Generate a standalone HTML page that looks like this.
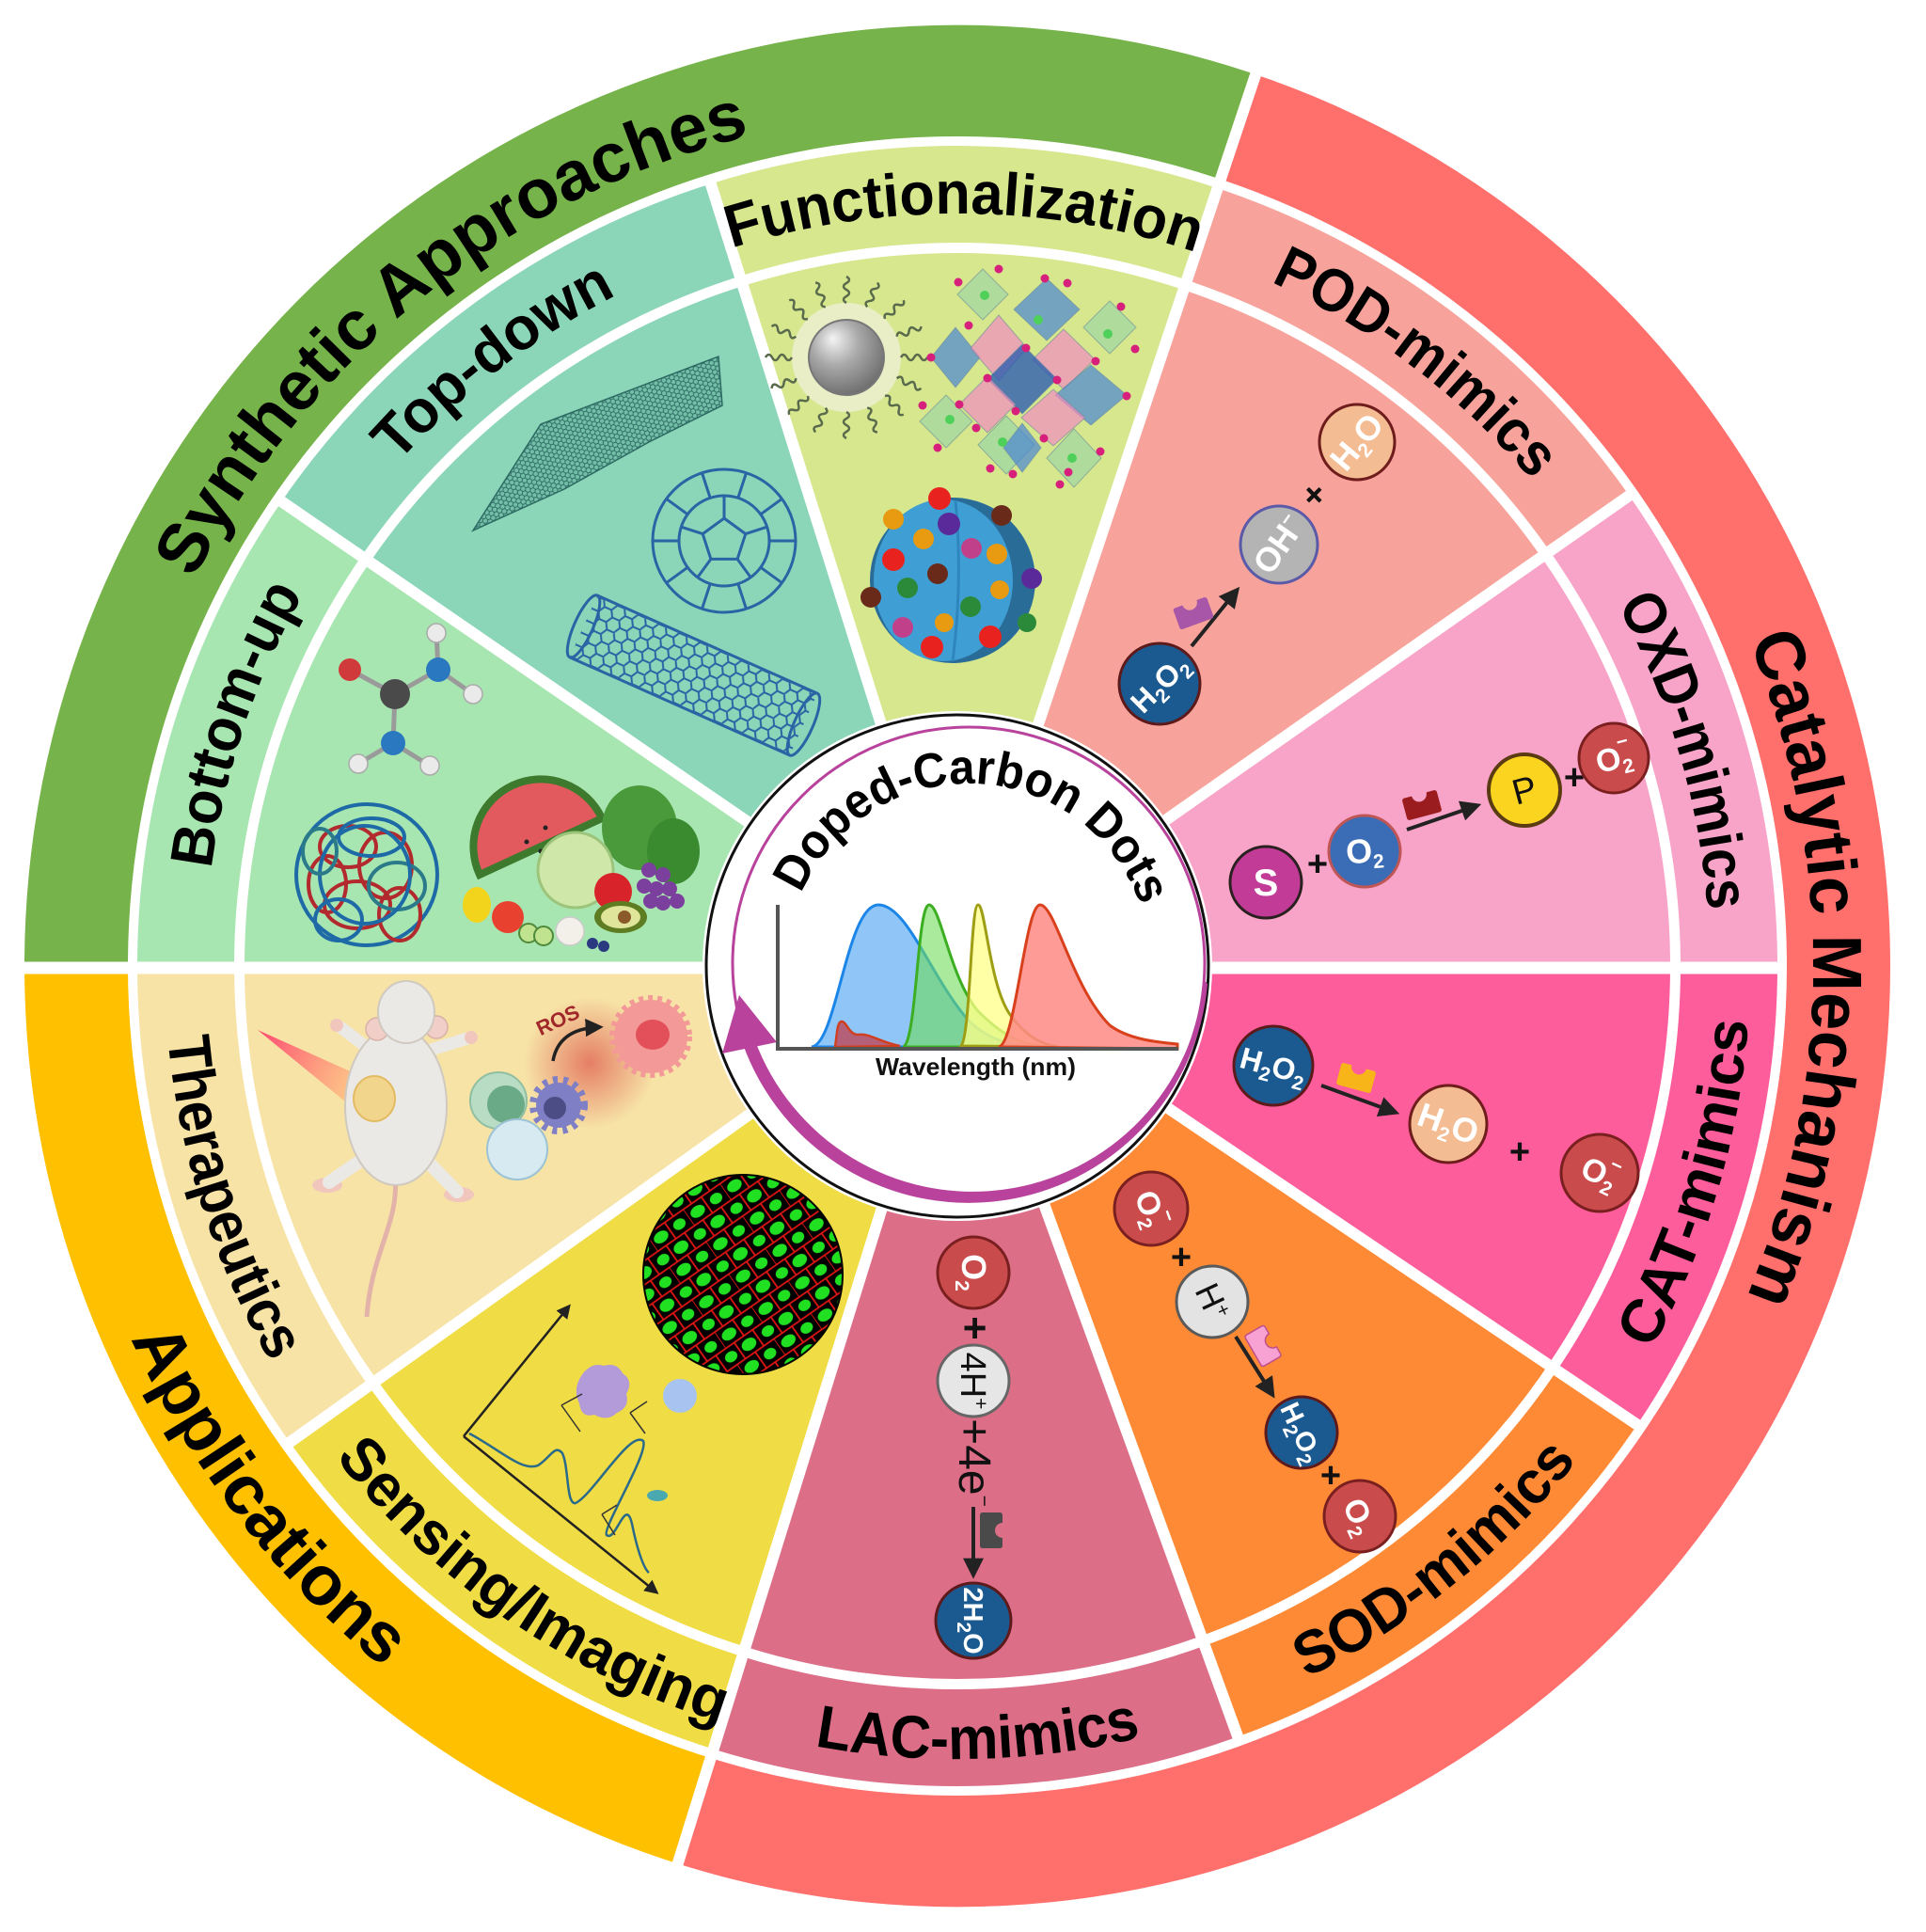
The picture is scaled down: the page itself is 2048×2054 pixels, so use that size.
<!DOCTYPE html>
<html><head><meta charset="utf-8">
<style>
html,body{margin:0;padding:0;background:#fff}
svg{display:block}
.lbl{font-family:"Liberation Sans",sans-serif;font-weight:700;fill:#000}
.mw{font-family:"Liberation Sans",sans-serif;font-weight:700;font-size:32px;fill:#fff;text-anchor:middle}
.mk{font-family:"Liberation Sans",sans-serif;font-weight:400;font-size:34px;fill:#111;text-anchor:middle}
.sb{font-size:21px}
.pl{font-family:"Liberation Sans",sans-serif;font-weight:700;font-size:38px;fill:#111;text-anchor:middle}
</style></head>
<body>
<svg xmlns="http://www.w3.org/2000/svg" width="2048" height="2054" viewBox="0 0 2048 2054">
<defs>
  <path id="mcw" d="M1018,1827 A800,800 0 1 1 1018,227 A800,800 0 1 1 1018,1827"/>
  <path id="mccw" d="M1018,184 A843,843 0 1 0 1018,1870 A843,843 0 1 0 1018,184"/>
  <path id="ocw" d="M1018,1937 A910,910 0 1 1 1018,117 A910,910 0 1 1 1018,1937"/>
  <path id="occw" d="M1018,63 A964,964 0 1 0 1018,1991 A964,964 0 1 0 1018,63"/>
  <path id="dcw" d="M1030,1221 A194,194 0 1 1 1030,833 A194,194 0 1 1 1030,1221"/>
  <radialGradient id="gball" cx="0.4" cy="0.35" r="0.7" fx="0.32" fy="0.25">
    <stop offset="0" stop-color="#f4f4f4"/><stop offset="0.45" stop-color="#a9a9a9"/><stop offset="1" stop-color="#6a6a6a"/>
  </radialGradient>
  <linearGradient id="laser" x1="0" y1="0" x2="1" y2="0.4">
    <stop offset="0" stop-color="#ff3f6e" stop-opacity="0.95"/><stop offset="1" stop-color="#ffb47a" stop-opacity="0.7"/>
  </linearGradient>
  <radialGradient id="glow"><stop offset="0" stop-color="#d93a3a" stop-opacity="0.6"/><stop offset="1" stop-color="#d93a3a" stop-opacity="0"/></radialGradient>
  <pattern id="hexg" width="9" height="5.2" patternUnits="userSpaceOnUse" patternTransform="rotate(-20)">
    <path d="M0,2.6 L1.5,0 L4.5,0 L6,2.6 L4.5,5.2 L1.5,5.2 Z M6,2.6 L9,2.6" fill="none" stroke="#2c6a62" stroke-width="0.9"/>
  </pattern>
  <pattern id="hexb" width="24" height="14" patternUnits="userSpaceOnUse">
    <path d="M0,7 L4,0 L12,0 L16,7 L12,14 L4,14 Z M16,7 L24,7" fill="none" stroke="#2a64a5" stroke-width="2"/>
  </pattern>
  <pattern id="cellp" width="34" height="30" patternUnits="userSpaceOnUse" patternTransform="rotate(-35) scale(1.4)">
    <rect width="34" height="30" fill="#000"/>
    <path d="M0,0 L34,0 M0,15 L34,15 M0,30 L34,30 M0,0 L0,15 M17,0 L17,15 M8,15 L8,30 M25,15 L25,30" stroke="#e01515" stroke-width="1.3"/>
    <ellipse cx="8.5" cy="7.5" rx="6" ry="4.3" fill="#21e021"/>
    <ellipse cx="25.5" cy="7.5" rx="5" ry="4" fill="#21e021"/>
    <ellipse cx="16.5" cy="22.5" rx="6" ry="4.5" fill="#21e021"/>
    <ellipse cx="0" cy="22.5" rx="5" ry="4" fill="#21e021"/>
    <ellipse cx="34" cy="22.5" rx="5" ry="4" fill="#21e021"/>
  </pattern>
  <marker id="ah" viewBox="0 0 10 10" refX="7" refY="5" markerWidth="5.5" markerHeight="5.5" orient="auto">
    <path d="M0,0 L10,5 L0,10 Z" fill="#222"/>
  </marker>
  <marker id="ah2" viewBox="0 0 10 10" refX="7" refY="5" markerWidth="6" markerHeight="6" orient="auto">
    <path d="M0,0 L10,5 L0,10 Z" fill="#222"/>
  </marker>
  <path id="wv" d="M958,380 q3.5,-6 7,0 t7,0 t7,0 t7,0" fill="none" stroke="#5a6a4c" stroke-width="2.5"/>
  <path id="enz" d="M-16,-12 L-8,-12 A8,8 0 0 0 8,-12 L16,-12 Q19,-12 19,-9 L19,9 Q19,12 16,12 L-16,12 Q-19,12 -19,9 L-19,-9 Q-19,-12 -16,-12 Z"/>
</defs>

<rect width="2048" height="2054" fill="#fff"/>

<!-- outer ring -->
<path d="M1018,1027 L1338.5,69.2 A1010,1010 0 0 0 8,1027 Z" fill="#76b34a"/>
<path d="M1018,1027 L8,1027 A1010,1010 0 0 0 717.6,1991.3 Z" fill="#ffc000"/>
<path d="M1018,1027 L717.6,1991.3 A1010,1010 0 0 0 1338.5,69.2 Z" fill="#ff6f6b"/>
<path fill="#fff" fill-rule="evenodd" d="M-10,-10H2060V2064H-10Z M26,1027 A992,1000 0 1 0 2010,1027 A992,1000 0 1 0 26,1027 Z"/>
<circle cx="1018" cy="1027" r="882" fill="#fff"/>

<!-- sectors -->
<path d="M1018,1027 L1890,1027 A872,872 0 0 0 1732.3,526.8 Z" fill="#f8a4c8"/>
<path d="M1018,1027 L1732.3,526.8 A872,872 0 0 0 1294.7,200.1 Z" fill="#f7a39b"/>
<path d="M1018,1027 L1294.7,200.1 A872,872 0 0 0 755.8,195.4 Z" fill="#d6e78e"/>
<path d="M1018,1027 L755.8,195.4 A872,872 0 0 0 299.4,533.1 Z" fill="#8bd5b9"/>
<path d="M1018,1027 L299.4,533.1 A872,872 0 0 0 146,1027 Z" fill="#a8e6b1"/>
<path d="M1018,1027 L146,1027 A872,872 0 0 0 308.1,1533.4 Z" fill="#f7e3a6"/>
<path d="M1018,1027 L308.1,1533.4 A872,872 0 0 0 758.7,1859.6 Z" fill="#f0dc45"/>
<path d="M1018,1027 L758.7,1859.6 A872,872 0 0 0 1316.2,1846.4 Z" fill="#dd6e87"/>
<path d="M1018,1027 L1316.2,1846.4 A872,872 0 0 0 1740.9,1514.6 Z" fill="#fe8a35"/>
<path d="M1018,1027 L1740.9,1514.6 A872,872 0 0 0 1890,1027 Z" fill="#fe5d9b"/>

<circle cx="1018" cy="1027" r="763.5" fill="none" stroke="#fff" stroke-width="11"/>

<g stroke="#fff" stroke-width="12">
  <line x1="1018" y1="1027" x2="1737.3" y2="523.4"/>
  <line x1="1018" y1="1027" x2="1338.5" y2="69.2"/>
  <line x1="1018" y1="1027" x2="754.0" y2="189.7"/>
  <line x1="1018" y1="1027" x2="294.4" y2="529.7"/>
  <line x1="1018" y1="1027" x2="303.2" y2="1536.9"/>
  <line x1="1018" y1="1027" x2="717.6" y2="1991.3"/>
  <line x1="1018" y1="1027" x2="1318.3" y2="1852.1"/>
  <line x1="1018" y1="1027" x2="1745.9" y2="1518.0"/>
  <line x1="8" y1="1029" x2="1896" y2="1029" stroke-width="13"/>
</g>

<!-- labels -->
<text class="lbl" font-size="74"><textPath href="#ocw" startOffset="2245.8" text-anchor="middle" textLength="780" lengthAdjust="spacingAndGlyphs">Synthetic Approaches</textPath></text>
<text class="lbl" font-size="74"><textPath href="#ocw" startOffset="4290.7" text-anchor="middle" textLength="716" lengthAdjust="spacingAndGlyphs">Catalytic Mechanism</textPath></text>
<text class="lbl" font-size="74"><textPath href="#occw" startOffset="2145" text-anchor="middle" textLength="445" lengthAdjust="spacingAndGlyphs">Applications</textPath></text>

<text class="lbl" font-size="64"><textPath href="#mcw" startOffset="2520.2" text-anchor="middle" textLength="502" lengthAdjust="spacingAndGlyphs">Functionalization</textPath></text>
<text class="lbl" font-size="64"><textPath href="#mcw" startOffset="1989.7" text-anchor="middle" textLength="295" lengthAdjust="spacingAndGlyphs">Top-down</textPath></text>
<text class="lbl" font-size="64"><textPath href="#mcw" startOffset="1514.9" text-anchor="middle" textLength="310" lengthAdjust="spacingAndGlyphs">Bottom-up</textPath></text>
<text class="lbl" font-size="64"><textPath href="#mcw" startOffset="3032.6" text-anchor="middle" textLength="352" lengthAdjust="spacingAndGlyphs">POD-mimics</textPath></text>
<text class="lbl" font-size="64"><textPath href="#mcw" startOffset="3539.5" text-anchor="middle" textLength="342" lengthAdjust="spacingAndGlyphs">OXD-mimics</textPath></text>

<text class="lbl" font-size="64"><textPath href="#mccw" startOffset="1583.1" text-anchor="middle" textLength="365" lengthAdjust="spacingAndGlyphs">Therapeutics</textPath></text>
<text class="lbl" font-size="64"><textPath href="#mccw" startOffset="2140" text-anchor="middle" textLength="505" lengthAdjust="spacingAndGlyphs">Sensing/Imaging</textPath></text>
<text class="lbl" font-size="64"><textPath href="#mccw" startOffset="2670.4" text-anchor="middle" textLength="350" lengthAdjust="spacingAndGlyphs">LAC-mimics</textPath></text>
<text class="lbl" font-size="64"><textPath href="#mccw" startOffset="3218.5" text-anchor="middle" textLength="372" lengthAdjust="spacingAndGlyphs">SOD-mimics</textPath></text>
<text class="lbl" font-size="64"><textPath href="#mccw" startOffset="3729.8" text-anchor="middle" textLength="368" lengthAdjust="spacingAndGlyphs">CAT-mimics</textPath></text>

<!-- ===== Functionalization content ===== -->
<circle cx="900" cy="380" r="58" fill="#eef0d6" opacity="0.8"/>
<g>
  <use href="#wv"/>
  <use href="#wv" transform="rotate(22.5 900 380)"/>
  <use href="#wv" transform="rotate(45 900 380)"/>
  <use href="#wv" transform="rotate(67.5 900 380)"/>
  <use href="#wv" transform="rotate(90 900 380)"/>
  <use href="#wv" transform="rotate(112.5 900 380)"/>
  <use href="#wv" transform="rotate(135 900 380)"/>
  <use href="#wv" transform="rotate(157.5 900 380)"/>
  <use href="#wv" transform="rotate(180 900 380)"/>
  <use href="#wv" transform="rotate(202.5 900 380)"/>
  <use href="#wv" transform="rotate(225 900 380)"/>
  <use href="#wv" transform="rotate(247.5 900 380)"/>
  <use href="#wv" transform="rotate(270 900 380)"/>
  <use href="#wv" transform="rotate(292.5 900 380)"/>
  <use href="#wv" transform="rotate(315 900 380)"/>
  <use href="#wv" transform="rotate(337.5 900 380)"/>
</g>
<circle cx="900" cy="380" r="40" fill="url(#gball)" stroke="#777" stroke-width="2"/>

<g stroke="#6a8a9a" stroke-width="1" stroke-opacity="0.6">
  <polygon points="1045,286 1072,313 1045,340 1018,313" fill="#8fd3a8" fill-opacity="0.55"/>
  <polygon points="1113,296 1148,329 1113,362 1078,329" fill="#4a86d4" fill-opacity="0.7"/>
  <polygon points="1180,320 1208,348 1180,376 1152,348" fill="#8fd3a8" fill-opacity="0.55"/>
  <polygon points="1016,348 1042,380 1016,412 990,380" fill="#4a86d4" fill-opacity="0.7"/>
  <polygon points="1062,335 1092,370 1062,405 1032,370" fill="#ef8cc0" fill-opacity="0.7"/>
  <polygon points="1131,350 1164,382 1131,414 1098,382" fill="#ef8cc0" fill-opacity="0.7"/>
  <polygon points="1087,366 1124,403 1087,440 1050,403" fill="#2d5fb0" fill-opacity="0.8"/>
  <polygon points="1160,388 1198,420 1160,452 1122,420" fill="#4a86d4" fill-opacity="0.7"/>
  <polygon points="1050,400 1080,430 1050,460 1020,430" fill="#ef8cc0" fill-opacity="0.7"/>
  <polygon points="1120,414 1154,444 1120,474 1086,444" fill="#ef8cc0" fill-opacity="0.7"/>
  <polygon points="1006,420 1034,448 1006,476 978,448" fill="#8fd3a8" fill-opacity="0.55"/>
  <polygon points="1070,442 1100,473 1070,504 1040,473" fill="#8fd3a8" fill-opacity="0.6"/>
  <polygon points="1087,450 1107,476 1087,502 1067,476" fill="#4a86d4" fill-opacity="0.7"/>
  <polygon points="1142,456 1171,487 1142,518 1113,487" fill="#8fd3a8" fill-opacity="0.55"/>
</g>
<g fill="#d6207c">
  <circle cx="1062" cy="286" r="4.5"/><circle cx="1019" cy="300" r="4.5"/><circle cx="1111" cy="296" r="4.5"/>
  <circle cx="1135" cy="301" r="4.5"/><circle cx="1192" cy="326" r="4.5"/><circle cx="1207" cy="371" r="4.5"/>
  <circle cx="990" cy="380" r="4.5"/><circle cx="1030" cy="346" r="4.5"/><circle cx="1091" cy="370" r="4.5"/>
  <circle cx="1165" cy="384" r="4.5"/><circle cx="1050" cy="402" r="4.5"/><circle cx="1124" cy="404" r="4.5"/>
  <circle cx="1198" cy="421" r="4.5"/><circle cx="1080" cy="437" r="4.5"/><circle cx="1020" cy="430" r="4.5"/>
  <circle cx="981" cy="431" r="4.5"/><circle cx="1038" cy="455" r="4.5"/><circle cx="1110" cy="466" r="4.5"/>
  <circle cx="997" cy="476" r="4.5"/><circle cx="1053" cy="498" r="4.5"/><circle cx="1077" cy="504" r="4.5"/>
  <circle cx="1136" cy="502" r="4.5"/><circle cx="1170" cy="480" r="4.5"/><circle cx="1127" cy="515" r="4.5"/>
</g>
<g fill="#4fd05a"><circle cx="1047" cy="314" r="5"/><circle cx="1104" cy="340" r="5"/><circle cx="1178" cy="355" r="5"/><circle cx="1010" cy="446" r="5"/><circle cx="1066" cy="470" r="5"/><circle cx="1140" cy="487" r="5"/></g>

<circle cx="1013" cy="617" r="88" fill="#2a6c98"/>
<ellipse cx="1003" cy="617" rx="74" ry="86" fill="#3f9fd4"/>
<path d="M1016,532 Q1024,617 1013,703" stroke="#2f86bd" stroke-width="3" fill="none"/>
<g>
  <circle cx="999" cy="530" r="12" fill="#e8231f"/><circle cx="950" cy="552" r="11" fill="#e89a10"/>
  <circle cx="1009" cy="557" r="12" fill="#5a2a9a"/><circle cx="1065" cy="548" r="11" fill="#6a2a1a"/>
  <circle cx="982" cy="573" r="11" fill="#e89a10"/><circle cx="1033" cy="583" r="11" fill="#c0408a"/>
  <circle cx="1060" cy="589" r="11" fill="#e89a10"/><circle cx="950" cy="595" r="12" fill="#e8231f"/>
  <circle cx="997" cy="610" r="11" fill="#6a2a1a"/><circle cx="965" cy="625" r="11" fill="#2a8a3a"/>
  <circle cx="1097" cy="615" r="11" fill="#5a2a9a"/><circle cx="926" cy="635" r="11" fill="#6a2a1a"/>
  <circle cx="1063" cy="627" r="10" fill="#e89a10"/><circle cx="1032" cy="645" r="11" fill="#2a8a3a"/>
  <circle cx="1004" cy="662" r="10" fill="#e89a10"/><circle cx="960" cy="667" r="11" fill="#c0408a"/>
  <circle cx="1053" cy="677" r="12" fill="#e8231f"/><circle cx="1092" cy="662" r="10" fill="#2a8a3a"/>
  <circle cx="991" cy="688" r="12" fill="#e8231f"/>
</g>

<!-- ===== Top-down content ===== -->
<polygon points="503,564 575,451 764,379 768,431 690,470 600,520" fill="#4f9a8d" fill-opacity="0.4"/>
<polygon points="503,564 575,451 764,379 768,431 690,470 600,520" fill="url(#hexg)" stroke="#2c6a62" stroke-width="1.5"/>

<g stroke="#2a64a5" stroke-width="3" fill="none">
  <circle cx="770" cy="575" r="76"/>
  <circle cx="770" cy="575" r="48"/>
  <polygon points="770,551 792.8,567.6 784.1,594.4 755.9,594.4 747.2,567.6"/>
  <line x1="770" y1="551" x2="770" y2="527"/><line x1="792.8" y1="567.6" x2="815.7" y2="560.2"/>
  <line x1="784.1" y1="594.4" x2="798.2" y2="613.8"/><line x1="755.9" y1="594.4" x2="741.8" y2="613.8"/>
  <line x1="747.2" y1="567.6" x2="724.3" y2="560.2"/>
  <line x1="784.8" y1="529.4" x2="793.5" y2="502.7"/><line x1="808.8" y1="546.8" x2="831.5" y2="530.3"/>
  <line x1="818" y1="575" x2="846" y2="575"/><line x1="808.8" y1="603.2" x2="831.5" y2="619.7"/>
  <line x1="784.8" y1="620.6" x2="793.5" y2="647.3"/><line x1="755.2" y1="620.6" x2="746.5" y2="647.3"/>
  <line x1="731.2" y1="603.2" x2="708.5" y2="619.7"/><line x1="722" y1="575" x2="694" y2="575"/>
  <line x1="731.2" y1="546.8" x2="708.5" y2="530.3"/><line x1="755.2" y1="529.4" x2="746.5" y2="502.7"/>
</g>
<g transform="translate(737.5,718) rotate(24)">
  <rect x="-128" y="-36" width="256" height="72" fill="url(#hexb)"/>
  <line x1="-128" y1="-36" x2="128" y2="-36" stroke="#2a64a5" stroke-width="3"/>
  <line x1="-128" y1="36" x2="128" y2="36" stroke="#2a64a5" stroke-width="3"/>
  <ellipse cx="-128" cy="0" rx="10" ry="36" fill="none" stroke="#2a64a5" stroke-width="3"/>
  <ellipse cx="128" cy="0" rx="10" ry="36" fill="none" stroke="#2a64a5" stroke-width="3"/>
</g>

<!-- ===== Bottom-up content ===== -->
<g stroke="#9a9a9a" stroke-width="5">
  <line x1="420" y1="738" x2="372" y2="712"/><line x1="420" y1="738" x2="466" y2="712"/>
  <line x1="420" y1="738" x2="418" y2="790"/><line x1="466" y1="712" x2="464" y2="673"/>
  <line x1="466" y1="712" x2="503" y2="738"/><line x1="418" y1="790" x2="381" y2="812"/>
  <line x1="418" y1="790" x2="457" y2="814"/>
</g>
<circle cx="420" cy="738" r="16" fill="#4a4a4a"/>
<circle cx="372" cy="712" r="12" fill="#d03a3a"/>
<circle cx="466" cy="712" r="13" fill="#2a78c0"/>
<circle cx="418" cy="790" r="13" fill="#2a78c0"/>
<g fill="#eaeaea" stroke="#aaa" stroke-width="1.5">
  <circle cx="464" cy="673" r="10"/><circle cx="503" cy="738" r="10"/><circle cx="381" cy="812" r="10"/><circle cx="457" cy="814" r="10"/>
</g>

<g fill="none" stroke-width="4">
  <circle cx="390" cy="930" r="75" stroke="#1e6aa6"/>
  <ellipse cx="370" cy="900" rx="30" ry="22" stroke="#b32a2e"/>
  <ellipse cx="410" cy="920" rx="28" ry="35" stroke="#b32a2e"/>
  <ellipse cx="380" cy="962" rx="35" ry="25" stroke="#b32a2e"/>
  <ellipse cx="425" cy="972" rx="22" ry="28" stroke="#b32a2e"/>
  <ellipse cx="348" cy="940" rx="20" ry="30" stroke="#b32a2e"/>
  <ellipse cx="395" cy="890" rx="35" ry="20" stroke="#1e6aa6"/>
  <ellipse cx="360" cy="978" rx="25" ry="22" stroke="#1e6aa6"/>
  <ellipse cx="422" cy="942" rx="30" ry="25" stroke="#2a7a8a"/>
  <ellipse cx="388" cy="930" rx="48" ry="52" stroke="#1e6aa6"/>
  <ellipse cx="340" cy="905" rx="18" ry="24" stroke="#2a7a8a"/>
</g>

<path d="M510,930 A70,70 0 0 1 640,870 Z" fill="#e35a5e" stroke="#3d7a2e" stroke-width="8"/>
<g fill="#222"><circle cx="560" cy="895" r="2.5"/><circle cx="580" cy="880" r="2.5"/><circle cx="575" cy="905" r="2.5"/><circle cx="600" cy="888" r="2.5"/></g>
<ellipse cx="680" cy="880" rx="40" ry="45" fill="#4a9a3c"/>
<ellipse cx="716" cy="905" rx="28" ry="35" fill="#3a8a30"/>
<circle cx="612" cy="925" r="40" fill="#cfe7a8" stroke="#9cc47a" stroke-width="3"/>
<circle cx="652" cy="948" r="20" fill="#d8232a"/>
<g fill="#7b3f9e"><circle cx="690" cy="925" r="8"/><circle cx="705" cy="930" r="8"/><circle cx="698" cy="945" r="8"/><circle cx="712" cy="945" r="8"/><circle cx="685" cy="942" r="8"/><circle cx="705" cy="960" r="8"/><circle cx="720" cy="958" r="8"/><circle cx="692" cy="958" r="8"/></g>
<ellipse cx="507" cy="962" rx="15" ry="19" fill="#f2d41c"/>
<circle cx="540" cy="975" r="17" fill="#e8412f"/>
<circle cx="562" cy="992" r="10" fill="#bfe38e" stroke="#4f8a3a" stroke-width="2"/>
<circle cx="578" cy="995" r="10" fill="#bfe38e" stroke="#4f8a3a" stroke-width="2"/>
<circle cx="606" cy="990" r="15" fill="#f3efe9" stroke="#ccc" stroke-width="1.5"/>
<ellipse cx="660" cy="975" rx="28" ry="17" fill="#5e7d22"/>
<ellipse cx="660" cy="975" rx="21" ry="12" fill="#dfe59a"/>
<circle cx="664" cy="975" r="7" fill="#8a5a2a"/>
<circle cx="630" cy="1003" r="6" fill="#2b3a80"/><circle cx="642" cy="1006" r="6" fill="#2b3a80"/>

<!-- ===== Therapeutics content ===== -->
<circle cx="627" cy="1130" r="70" fill="url(#glow)"/>
<polygon points="274,1095 386,1145 384,1185" fill="url(#laser)"/>
<path d="M420,1250 C425,1300 395,1330 390,1400" stroke="#e3b3aa" stroke-width="5" fill="none"/>
<ellipse cx="348" cy="1260" rx="16" ry="8" fill="#f0c6bd"/>
<ellipse cx="488" cy="1270" rx="16" ry="8" fill="#f0c6bd"/>
<line x1="392" y1="1228" x2="350" y2="1257" stroke="#ebe9e6" stroke-width="14" stroke-linecap="round"/>
<line x1="452" y1="1232" x2="486" y2="1267" stroke="#ebe9e6" stroke-width="14" stroke-linecap="round"/>
<line x1="392" y1="1115" x2="362" y2="1092" stroke="#ebe9e6" stroke-width="13" stroke-linecap="round"/>
<line x1="452" y1="1118" x2="497" y2="1104" stroke="#ebe9e6" stroke-width="13" stroke-linecap="round"/>
<circle cx="358" cy="1090" r="7" fill="#f0c6bd"/><circle cx="501" cy="1103" r="7" fill="#f0c6bd"/>
<ellipse cx="421" cy="1176" rx="54" ry="84" fill="#ebe9e6" stroke="#cfc9c0" stroke-width="2"/>
<circle cx="401" cy="1094" r="12" fill="#f1cfc8" stroke="#d8b0a8" stroke-width="1.5"/>
<circle cx="464" cy="1092" r="12" fill="#f1cfc8" stroke="#d8b0a8" stroke-width="1.5"/>
<ellipse cx="432" cy="1076" rx="30" ry="33" fill="#ebe9e6" stroke="#cfc9c0" stroke-width="2"/>
<ellipse cx="398" cy="1168" rx="22" ry="24" fill="#f2d58d" stroke="#e2bb63" stroke-width="2"/>
<circle cx="530" cy="1170" r="30" fill="#b9dcc4" stroke="#8fbfa0" stroke-width="2"/>
<circle cx="538" cy="1174" r="20" fill="#6aaa86"/>
<circle cx="550" cy="1222" r="32" fill="#d7eaf2" stroke="#9cc3d3" stroke-width="2"/>
<circle cx="594" cy="1175" r="27" fill="none" stroke="#7f7fc6" stroke-width="8" stroke-dasharray="5 6"/>
<circle cx="594" cy="1175" r="24" fill="#7f7fc6"/>
<circle cx="590" cy="1178" r="12" fill="#4d4d86"/>
<circle cx="692" cy="1102" r="41" fill="none" stroke="#f39a98" stroke-width="6" stroke-dasharray="5 5"/>
<circle cx="692" cy="1102" r="39" fill="#f39a98"/>
<ellipse cx="694" cy="1100" rx="18" ry="16" fill="#e3505a"/>
<path d="M588,1128 Q594,1094 636,1092" stroke="#222" stroke-width="3.5" fill="none" marker-end="url(#ah)"/>
<text x="593" y="1092" transform="rotate(-25 593 1084)" font-family="Liberation Sans,sans-serif" font-weight="700" font-size="22" fill="#a0282a" text-anchor="middle">ROS</text>

<!-- ===== Sensing content ===== -->
<circle cx="790" cy="1355" r="106" fill="url(#cellp)" stroke="#000" stroke-width="2"/>
<line x1="493" y1="1527" x2="604" y2="1390" stroke="#222" stroke-width="2.5" marker-end="url(#ah2)"/>
<line x1="493" y1="1527" x2="697" y2="1692" stroke="#222" stroke-width="2.5" marker-end="url(#ah2)"/>
<path d="M499,1524 C530,1540 555,1565 572,1558 C585,1550 590,1535 598,1545 C605,1560 602,1600 612,1598 C630,1590 670,1520 684,1532 C690,1545 640,1625 645,1632 C655,1640 665,1590 672,1620 C678,1650 685,1668 690,1672" stroke="#2a6a8a" stroke-width="2.5" fill="none"/>
<path d="M620,1460 q10,-12 22,-8 q14,-4 20,8 q12,8 4,22 q4,14 -10,20 q-10,10 -24,2 q-14,4 -16,-12 q-8,-16 4,-32 Z" fill="#b39ad9"/>
<circle cx="723" cy="1484" r="18" fill="#a9c3f0"/>
<ellipse cx="699" cy="1590" rx="11" ry="6" fill="#4aa8b0"/>
<path d="M597,1494 l22,-12 M597,1494 l20,28 M670,1502 l18,-12 M670,1502 l16,22 M640,1610 l16,-10 M640,1610 l14,22" stroke="#333" stroke-width="1.5" fill="none"/>

<!-- ===== POD ===== -->
<line x1="1267" y1="687" x2="1314" y2="629" stroke="#222" stroke-width="4" marker-end="url(#ah)"/>
<g transform="translate(1269,652) rotate(-20)"><use href="#enz" fill="#a756a8"/></g>
<g transform="translate(1233,727)"><circle r="43" fill="#1b5a91" stroke="#5e1a1a" stroke-width="3"/><text class="mw" transform="rotate(-45)" y="11">H<tspan class="sb" dy="7">2</tspan><tspan dy="-7">O</tspan><tspan class="sb" dy="7">2</tspan></text></g>
<g transform="translate(1360,579)"><circle r="41" fill="#b4b4b4" stroke="#5a5aa8" stroke-width="3"/><text class="mw" transform="rotate(-55)" y="12" style="font-size:36px">OH<tspan class="sb" dy="-14">−</tspan></text></g>
<g transform="translate(1443,470)"><circle r="40" fill="#f3bc92" stroke="#6e1c1c" stroke-width="3"/><text class="mw" transform="rotate(-50)" y="12" style="font-size:36px">H<tspan class="sb" dy="7">2</tspan><tspan dy="-7">O</tspan></text></g>
<text class="pl" x="1397" y="539" transform="rotate(-45 1397 526)">+</text>

<!-- ===== OXD ===== -->
<g transform="translate(1346,938)"><circle r="38" fill="#c23b97" stroke="#2a2020" stroke-width="3"/><text class="mw" y="14" style="font-size:40px">S</text></g>
<text class="pl" x="1401" y="931">+</text>
<g transform="translate(1451,905)"><circle r="38" fill="#3a6db5" stroke="#c05555" stroke-width="3"/><text class="mw" transform="rotate(-5)" y="12" style="font-size:36px">O<tspan class="sb" dy="7">2</tspan></text></g>
<line x1="1496" y1="882" x2="1569" y2="857" stroke="#222" stroke-width="4" marker-end="url(#ah)"/>
<g transform="translate(1512,856) rotate(-15)"><use href="#enz" fill="#9a1c1e"/></g>
<g transform="translate(1621,840)"><circle r="38" fill="#fbd420" stroke="#5b3b12" stroke-width="4"/><text class="mk" transform="rotate(-15)" y="13" style="font-size:38px">P</text></g>
<text class="pl" x="1674" y="839">+</text>
<g transform="translate(1716,806)"><circle r="37" fill="#c94b4b" stroke="#7a1f1f" stroke-width="3"/><text class="mw" transform="rotate(-15)" y="12" style="font-size:34px">O<tspan class="sb" dy="7">2</tspan><tspan class="sb" dx="-12" dy="-27">−</tspan></text></g>

<!-- ===== CAT ===== -->
<line x1="1405" y1="1154" x2="1482" y2="1182" stroke="#222" stroke-width="4" marker-end="url(#ah)"/>
<g transform="translate(1442,1146) rotate(15)"><use href="#enz" fill="#f7b51a"/></g>
<g transform="translate(1354,1133)"><circle r="42" fill="#1b5a91" stroke="#5e1a1a" stroke-width="3"/><text class="mw" transform="rotate(15)" y="11">H<tspan class="sb" dy="7">2</tspan><tspan dy="-7">O</tspan><tspan class="sb" dy="7">2</tspan></text></g>
<g transform="translate(1540,1195)"><circle r="41" fill="#f3bc92" stroke="#6e1c1c" stroke-width="3"/><text class="mw" transform="rotate(20)" y="12" style="font-size:36px">H<tspan class="sb" dy="7">2</tspan><tspan dy="-7">O</tspan></text></g>
<text class="pl" x="1616" y="1237">+</text>
<g transform="translate(1701,1247)"><circle r="41" fill="#c94b4b" stroke="#7a1f1f" stroke-width="3"/><text class="mw" transform="rotate(25)" y="12" style="font-size:34px">O<tspan class="sb" dy="7">2</tspan><tspan class="sb" dx="-12" dy="-27">−</tspan></text></g>

<!-- ===== SOD ===== -->
<g transform="translate(1224,1285)"><circle r="39" fill="#c94b4b" stroke="#7a1f1f" stroke-width="3"/><text class="mw" transform="rotate(70)" y="12" style="font-size:34px">O<tspan class="sb" dy="7">2</tspan><tspan class="sb" dx="-12" dy="-27">−</tspan></text></g>
<text class="pl" x="1256" y="1349">+</text>
<g transform="translate(1289,1384)"><circle r="38" fill="#e3e3e3" stroke="#5a5a5a" stroke-width="3"/><text class="mk" transform="rotate(65)" y="12" style="font-size:36px">H<tspan class="sb" dy="-12">+</tspan></text></g>
<line x1="1314" y1="1421" x2="1352" y2="1481" stroke="#222" stroke-width="4" marker-end="url(#ah)"/>
<g transform="translate(1343,1431) rotate(60)"><use href="#enz" fill="#f7a2d3" stroke="#c0508a" stroke-width="1.5"/></g>
<g transform="translate(1384,1523)"><circle r="38" fill="#1b5a91" stroke="#5e1a1a" stroke-width="3"/><text class="mw" transform="rotate(65)" y="10" style="font-size:29px">H<tspan class="sb" dy="7">2</tspan><tspan dy="-7">O</tspan><tspan class="sb" dy="7">2</tspan></text></g>
<text class="pl" x="1415" y="1581">+</text>
<g transform="translate(1446,1612)"><circle r="38" fill="#c94b4b" stroke="#7a1f1f" stroke-width="3"/><text class="mw" transform="rotate(65)" y="12" style="font-size:34px">O<tspan class="sb" dy="7">2</tspan></text></g>

<!-- ===== LAC ===== -->
<g transform="translate(1035,1353)"><circle r="38" fill="#c94b4b" stroke="#7a1f1f" stroke-width="3"/><text class="mw" transform="rotate(90)" y="12" style="font-size:36px">O<tspan class="sb" dy="7">2</tspan></text></g>
<text class="pl" x="1035" y="1425" transform="rotate(90 1035 1412)" style="font-size:44px">+</text>
<g transform="translate(1035,1468)"><circle r="38" fill="#e6e6e6" stroke="#666" stroke-width="3"/><text class="mk" transform="rotate(90)" y="13" style="font-size:38px">4H<tspan class="sb" dy="-14">+</tspan></text></g>
<text class="mk" x="1035" y="1570" transform="rotate(90 1035 1555)" style="font-size:48px">+4e<tspan class="sb" dy="-20">−</tspan></text>
<line x1="1035" y1="1602" x2="1035" y2="1672" stroke="#222" stroke-width="4" marker-end="url(#ah)"/>
<g transform="translate(1054,1627) rotate(90)"><use href="#enz" fill="#4a4a4a"/></g>
<g transform="translate(1035,1723)"><circle r="40" fill="#1b5a91" stroke="#5e1a1a" stroke-width="3"/><text class="mw" transform="rotate(90)" y="10" style="font-size:29px">2H<tspan class="sb" dy="7">2</tspan><tspan dy="-7">O</tspan></text></g>

<!-- ===== center ===== -->
<circle cx="1018" cy="1027" r="271" fill="#fff"/>
<circle cx="1018" cy="1027" r="267" fill="none" stroke="#111" stroke-width="3"/>
<circle cx="1030" cy="1024" r="251" fill="none" stroke="#b8429c" stroke-width="3"/>
<path d="M1284,1046.2 A255,255 0 0 1 790.4,1111.2 L802.1,1104.3 A247,247 0 0 0 1280.3,1041.3 Z" fill="#b8429c"/>
<polygon points="786,1058 768,1120 826,1108" fill="#b8429c"/>

<path d="M863,1113 C890,1110 900,962 934,962 C965,962 990,1040 1030,1085 C1050,1105 1075,1112 1100,1113 Z" fill="#8fc6f7" stroke="#1c86e8" stroke-width="3"/>
<path d="M888,1113 C890,1100 890,1086 895,1086 C900,1086 903,1100 912,1100 C925,1098 935,1108 957,1112 Z" fill="#b46079" stroke="#d04020" stroke-width="2.5"/>
<path d="M960,1113 C975,1110 975,962 988,962 C1000,962 1010,1040 1040,1075 C1070,1105 1090,1112 1120,1113 Z" fill="#6fdc5c" fill-opacity="0.6" stroke="#3cae22" stroke-width="3"/>
<path d="M1022,1112 C1032,1100 1032,962 1040,962 C1048,962 1052,1050 1075,1080 C1090,1100 1105,1110 1125,1113 Z" fill="#ffff88" fill-opacity="0.75" stroke="#9e9e14" stroke-width="3"/>
<path d="M1062,1113 C1080,1110 1090,962 1106,962 C1122,962 1140,1050 1180,1090 C1200,1105 1230,1108 1252,1110 L1252,1115 Z" fill="#ff8a85" fill-opacity="0.85" stroke="#d9401c" stroke-width="3"/>
<polyline points="827,962 827,1115 1253,1115" fill="none" stroke="#555" stroke-width="4"/>
<text x="1037.5" y="1143" font-family="Liberation Sans,sans-serif" font-weight="700" font-size="26" fill="#111" text-anchor="middle" textLength="213" lengthAdjust="spacingAndGlyphs">Wavelength (nm)</text>

<text class="lbl" font-size="52"><textPath href="#dcw" startOffset="616.2" text-anchor="middle" textLength="465" lengthAdjust="spacingAndGlyphs">Doped-Carbon Dots</textPath></text>
</svg>
</body></html>
